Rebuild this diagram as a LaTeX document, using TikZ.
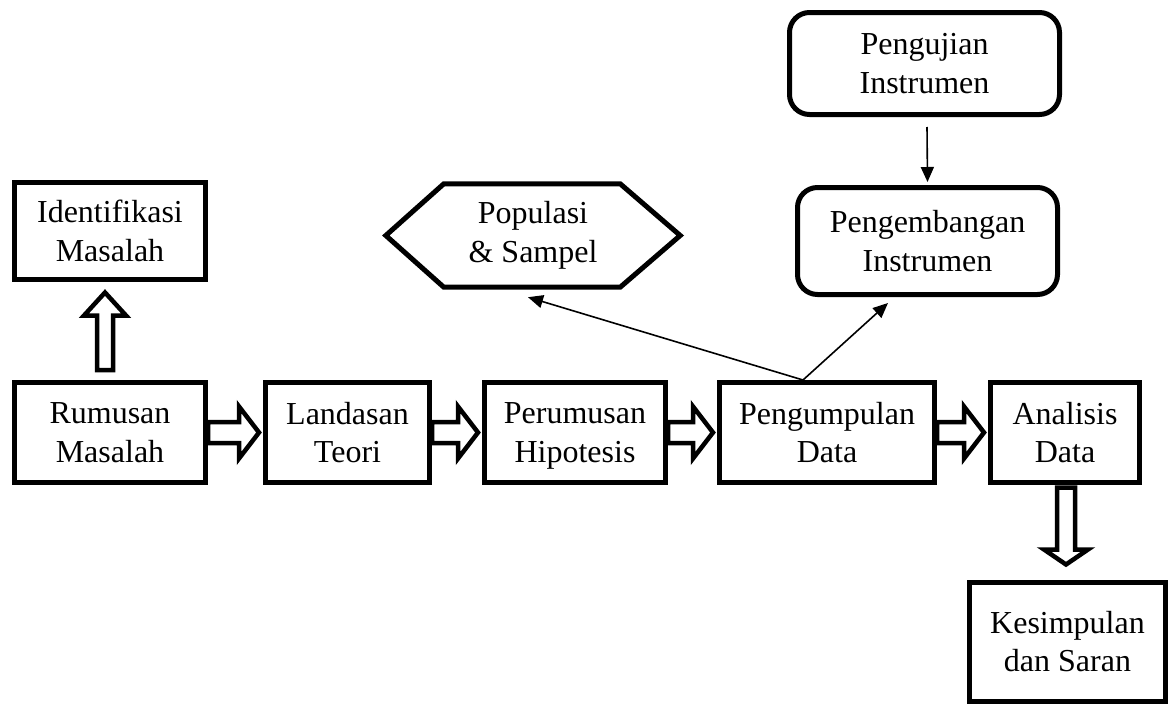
\documentclass[tikz,border=0pt]{standalone}
\usepackage{fontspec}
\setmainfont{Liberation Serif}
\usetikzlibrary{calc,arrows.meta}
\begin{document}
\begin{tikzpicture}[x=1pt,y=-1pt,
  every node/.style={font=\fontsize{32}{38.5}\selectfont, align=center, inner sep=0pt},
  box/.style={draw, line width=5pt, minimum height=100pt},
  rbox/.style={draw, line width=5pt, rounded corners=20pt},
  blk/.style={draw, fill=white, line width=4.5pt, line join=miter, miter limit=10},
  thinarr/.style={line width=1.6pt, -{Triangle[length=15pt,width=13pt]}}
]
\useasboundingbox (0,0) rectangle (1170,704);

\node[box, minimum width=191pt, minimum height=97pt] (idm) at (110,231) {Identifikasi\\Masalah};
\node[box, minimum width=191pt] (rm) at (110,432.5) {Rumusan\\Masalah};
\node[box, minimum width=164pt] (lt) at (347.5,432.5) {Landasan\\Teori};
\node[box, minimum width=181pt] (ph) at (575,432.5) {Perumusan\\\smash{Hipotesis}};
\node[box, minimum width=215pt] (pd) at (827,432.5) {Pengumpulan\\Data};
\node[box, minimum width=149pt] (ad) at (1065,432.5) {Analisis\\Data};
\node[box, minimum width=196pt, minimum height=118.5pt] (ks) at (1067.5,641.75) {Kesimpulan\\dan Saran};

\node[rbox, minimum width=270pt, minimum height=102pt] (peng) at (924.5,63.5) {Pengujian\\Instrumen};
\node[rbox, minimum width=260pt, minimum height=107pt] (pgi) at (927.5,241) {Pengembangan\\Instrumen};

\node[minimum width=294pt, minimum height=103pt] (pop) at (533,235.5) {Populasi\\\& Sampel};
\draw[line width=5pt, line join=miter] (pop.west) -- ($(pop.north west)+(58,0)$) -- ($(pop.north east)+(-60,0)$) -- (pop.east) -- ($(pop.south east)+(-60,0)$) -- ($(pop.south west)+(58,0)$) -- cycle;

% block arrows to the right
\foreach \a/\b in {rm/lt, lt/ph, ph/pd, pd/ad}{
  \draw[blk] ($(\a.east)+(0,-10.5)$) -- ($(\b.west)+(-24,-10.5)$) -- ($(\b.west)+(-24,-26)$)
    -- ($(\b.west)+(-4,0)$) -- ($(\b.west)+(-24,26)$) -- ($(\b.west)+(-24,10.5)$)
    -- ($(\a.east)+(0,10.5)$) -- cycle;
}
% block arrow up
\draw[blk] ($(rm.north)+(-13,-10)$) -- ($(idm.south)+(-13,33.5)$) -- ($(idm.south)+(-26,33.5)$)
  -- ($(idm.south)+(-5,10.5)$) -- ($(idm.south)+(16,33.5)$) -- ($(idm.south)+(3,33.5)$)
  -- ($(rm.north)+(3,-10)$) -- cycle;
% block arrow down
\draw[blk] ($(ad.south)+(-8,2.5)$) -- ($(ad.south)+(-8,64.5)$) -- ($(ad.south)+(-21,64.5)$)
  -- ($(ks.north)+(-1.5,-15.5)$) -- ($(ad.south)+(23,64.5)$) -- ($(ad.south)+(10,64.5)$)
  -- ($(ad.south)+(10,2.5)$) -- cycle;

% thin arrows
\coordinate (fork) at ($(pd.north)+(-24,0)$);
\draw[thinarr] ($(peng.south)+(2.5,10)$) -- ($(pgi.north)+(0,-3)$);
\draw[thinarr] (fork) -- ($(pop.south)+(-5,10)$);
\draw[thinarr] (fork) -- ($(pgi.south)+(-39.5,6)$);
\end{tikzpicture}
\end{document}
